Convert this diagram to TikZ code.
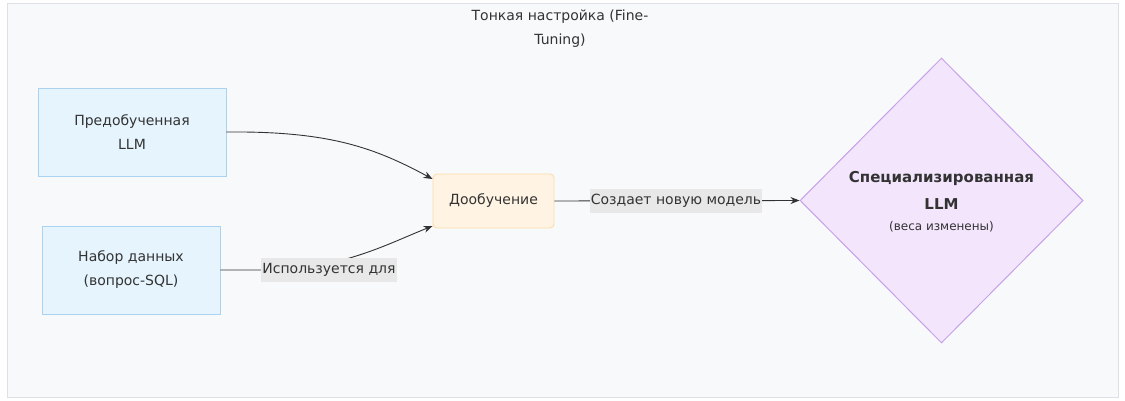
\documentclass[tikz,border=0pt]{standalone}
\usepackage{fontspec}
\setmainfont{DejaVu Sans}
\usetikzlibrary{shapes.geometric,arrows.meta,calc}
\definecolor{clusterfill}{HTML}{F8F9FB}
\definecolor{clusterline}{HTML}{DDE1E6}
\definecolor{bluefill}{HTML}{E6F4FD}
\definecolor{blueline}{HTML}{A9D3F0}
\definecolor{orangefill}{HTML}{FFF4E3}
\definecolor{orangeline}{HTML}{FDDCA8}
\definecolor{purplefill}{HTML}{F3E5FC}
\definecolor{purpleline}{HTML}{C7A2E8}
\definecolor{ink}{HTML}{333333}
\definecolor{labelbg}{HTML}{E8E8E8}
\tikzset{
  inputbox/.style={draw=blueline, fill=bluefill, line width=0.9pt, minimum width=188pt, minimum height=88pt, align=center, text=ink, font=\fontsize{14}{24}\selectfont},
  trainbox/.style={draw=orangeline, fill=orangefill, line width=0.9pt, rounded corners=4pt, minimum width=121pt, minimum height=54pt, align=center, text=ink, font=\fontsize{14}{17}\selectfont},
  resultbox/.style={draw=purpleline, fill=purplefill, line width=1pt, diamond, minimum width=283pt, minimum height=285pt, inner sep=0pt, align=center, text=ink},
  flow/.style={draw=ink, line width=0.9pt, -{Stealth[length=9pt,width=7pt]}},
  edgelabel/.style={fill=labelbg, text=ink, inner sep=1pt, minimum height=24pt, font=\fontsize{14}{17}\selectfont},
}
\begin{document}
\begin{tikzpicture}[x=1pt,y=-1pt]
  \useasboundingbox (0,0) rectangle (1125,401);
  % cluster frame
  \node[draw=clusterline, fill=clusterfill, line width=0.9pt, minimum width=1111pt, minimum height=394pt, inner sep=0pt] (frame) at (562.5,200) {};
  \node[text=ink, align=center, font=\fontsize{14}{24}\selectfont] (title) at (560,29) {Тонкая настройка (Fine-\\Tuning)};

  % nodes
  \node[inputbox] (pre) at (132,132) {Предобученная\\LLM};
  \node[inputbox, minimum width=178pt] (data) at (131,270) {Набор данных\\(вопрос-SQL)};
  \node[trainbox] (ft) at (493.5,201) {Дообучение};
  \node[resultbox] (spec) at (941.5,200.5) {};
  \node[text=ink, align=center, font=\bfseries\fontsize{15}{27}\selectfont] (spectitle) at (941.5,190) {Специализированная\\LLM};
  \node[text=ink, font=\fontsize{12}{14}\selectfont] (specnote) at (941.5,227) {(веса изменены)};

  % connectors
  \coordinate (ftin1) at ([yshift=22pt]ft.west);
  \coordinate (ftin2) at ([yshift=-25pt]ft.west);
  \draw[flow] (pre.east) .. controls (330,131) and (375,148) .. (ftin1);
  \draw[flow] (data.east) -- (263,270) .. controls (340,270) and (385,245) .. (ftin2);
  \node[edgelabel] (lbl1) at (329,270) {Используется для};
  \draw[flow] (ft.east) -- (spec.west);
  \node[edgelabel] (lbl2) at (676,201) {Создает новую модель};
\end{tikzpicture}
\end{document}
